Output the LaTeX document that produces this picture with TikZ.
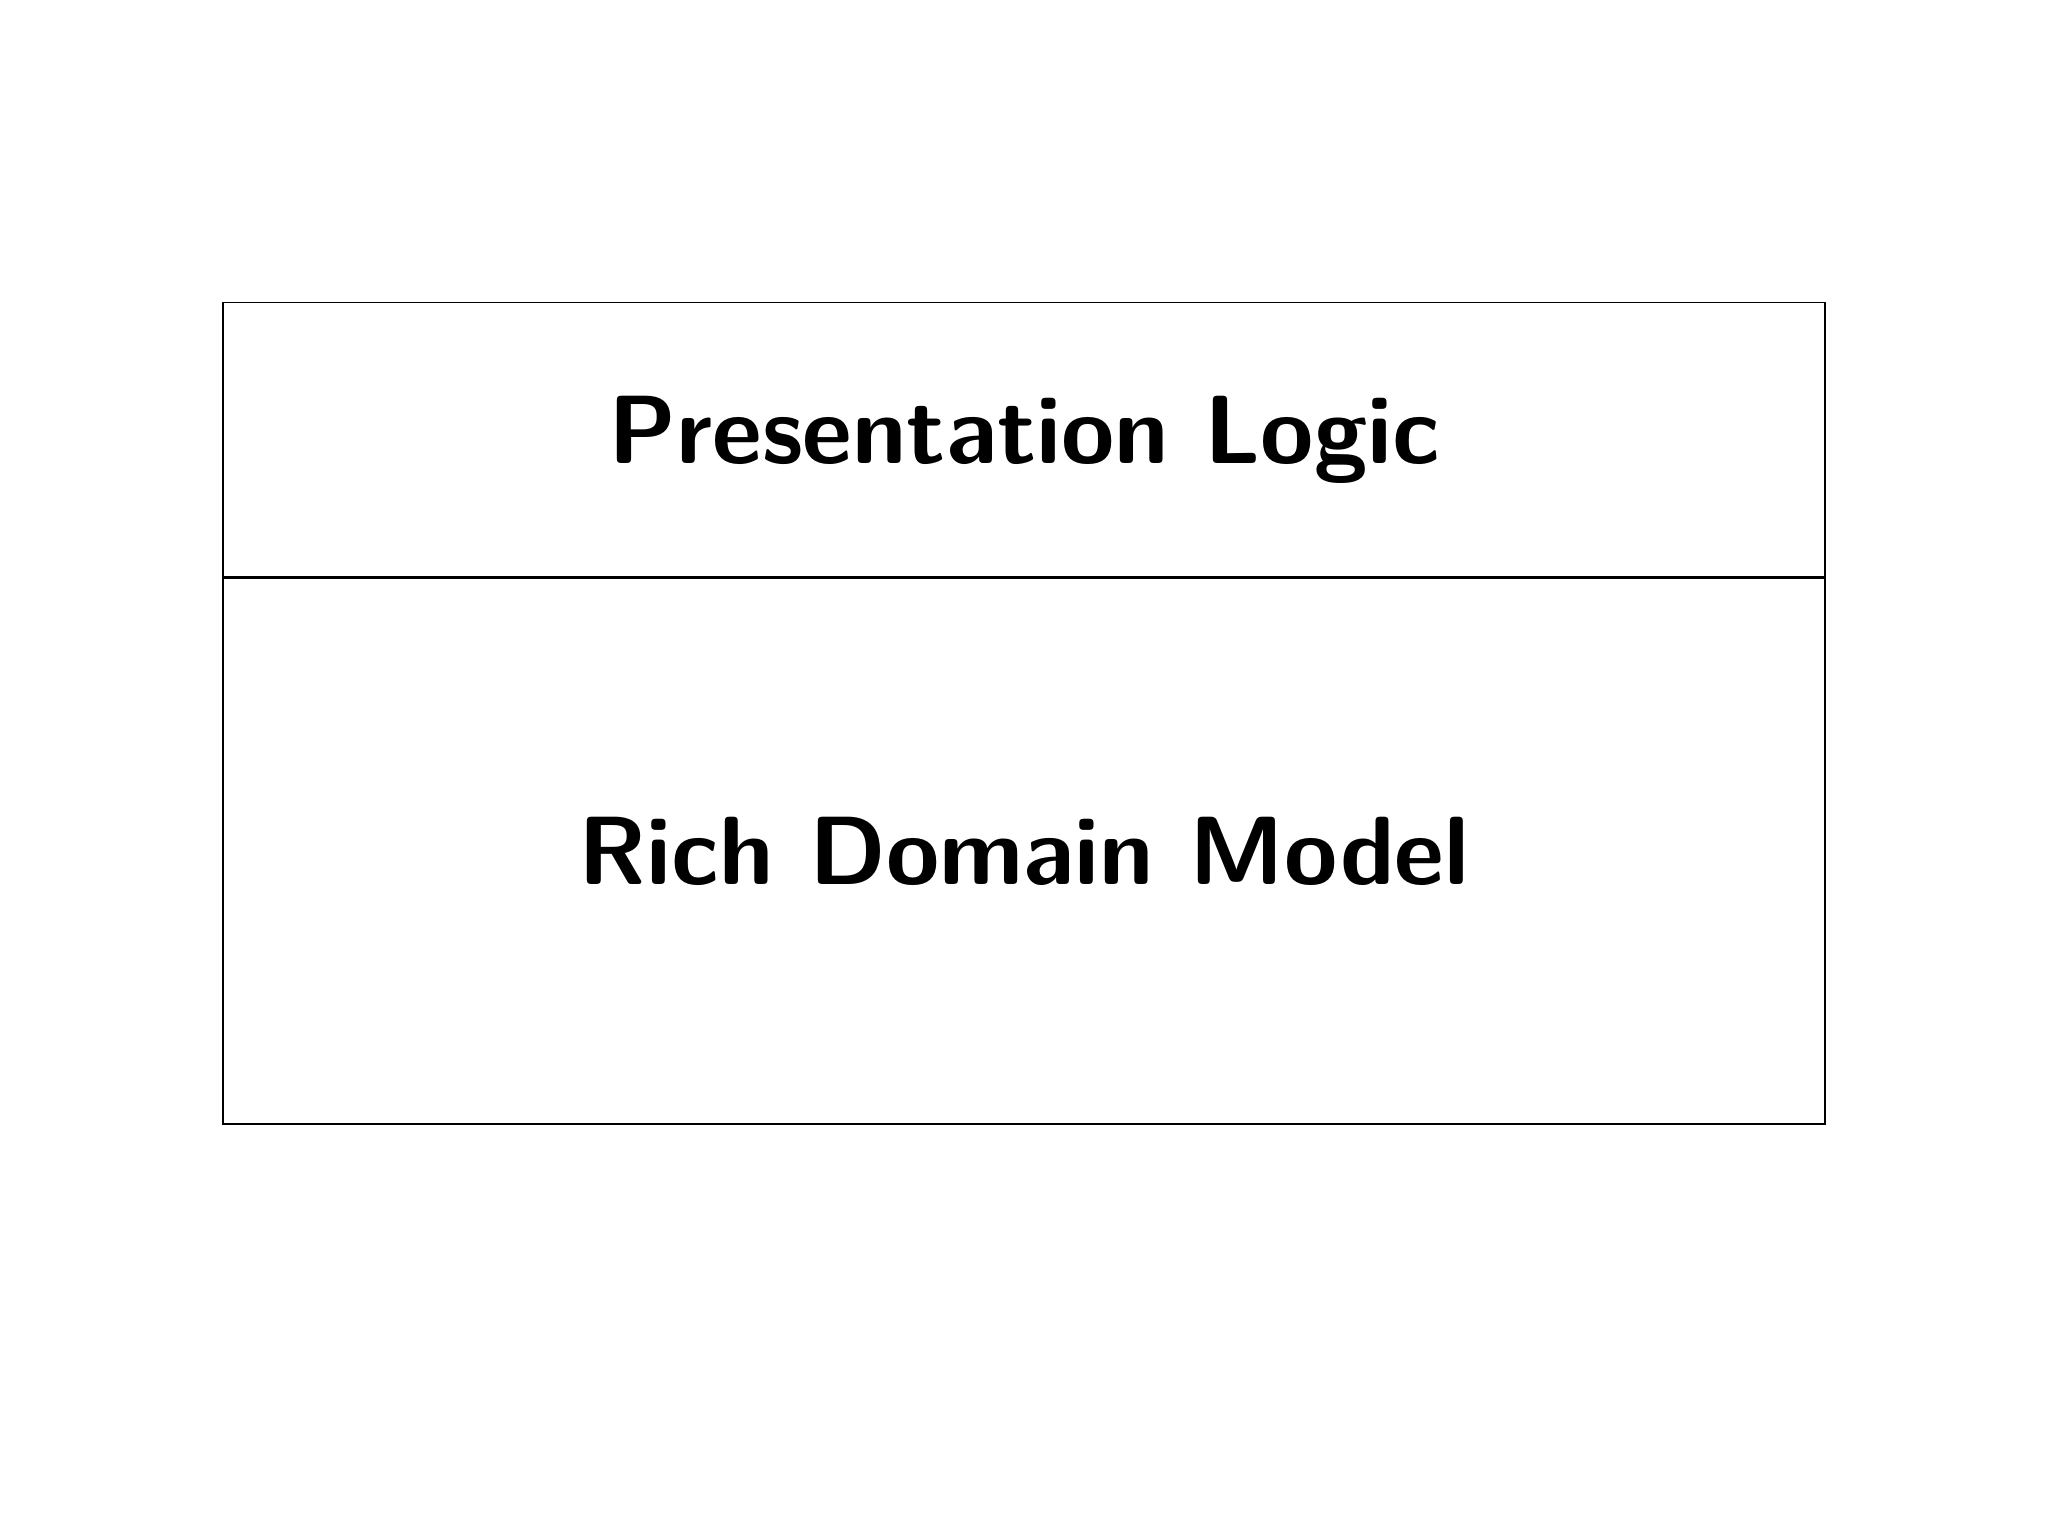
\documentclass[tikz,border=0pt]{standalone}
\usepackage{tikz}
\usetikzlibrary{positioning}

\begin{document}
\begin{tikzpicture}[layer/.style={draw,rectangle,minimum width=16.02cm,inner sep=0pt,font=\fontsize{27.6}{33}\selectfont\sffamily\bfseries}]
  \useasboundingbox (0,0) rectangle (20.48,15.36);
  \node[layer,minimum height=2.74cm,anchor=north] (pres) at (10.24,12.34) {Presentation Logic};
  \node[layer,minimum height=5.46cm,below=0cm of pres] (model) {Rich Domain Model};
\end{tikzpicture}
\end{document}
